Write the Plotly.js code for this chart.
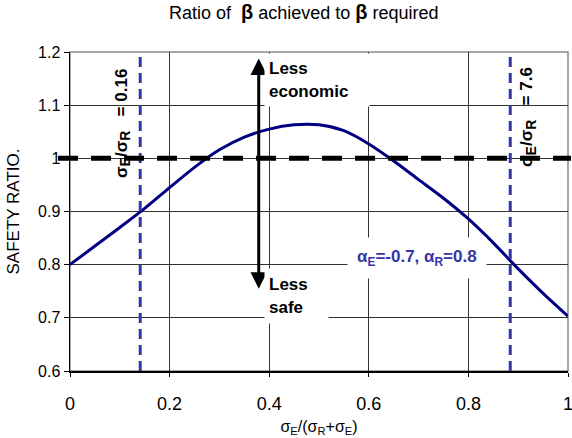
<!DOCTYPE html>
<html>
<head>
<meta charset="utf-8">
<script src="https://cdn.plot.ly/plotly-3.0.1.min.js"></script>
<style>html,body{margin:0;padding:0;background:#fff;}#chart{width:572px;height:438px;}</style>
</head>
<body>
<div id="chart"></div>
<script>
// Curve: safety ratio vs sigma_E/(sigma_R+sigma_E), alpha_E=-0.7, alpha_R=0.8
const ratioX = [0, 0.05, 0.1, 0.15, 0.2, 0.25, 0.3, 0.35, 0.4, 0.45, 0.5, 0.55, 0.6, 0.65, 0.7, 0.75, 0.8, 0.85, 0.9, 0.95, 1.0];
const safetyRatio = [0.800, 0.835, 0.870, 0.906, 0.945, 0.983, 1.016, 1.040, 1.055, 1.063, 1.063, 1.052, 1.027, 0.995, 0.960, 0.925, 0.886, 0.841, 0.792, 0.746, 0.703];
// Reference lines
const markerX = [0.141, 0.884];          // sigma_E/sigma_R = 0.16 and 7.6
const markerLabels = ['0.16', '7.6'];
const requiredLevel = 1.0;
// Arrow ends (less economic / less safe)
const arrowX = 0.379;
const arrowY = [1.1876, 0.7517];
// Axis ticks
const xTicks = [0, 0.2, 0.4, 0.6, 0.8, 1];
const xTickText = ['0', '0.2', '0.4', '0.6', '0.8', '1'];
const yTicks = [0.6, 0.7, 0.8, 0.9, 1.0, 1.1, 1.2];
const yTickText = ['0.6', '0.7', '0.8', '0.9', '1', '1.1', '1.2'];

const FONT = 'Liberation Sans, Arial, sans-serif';
const NAVY = '#000080';
const SLATE = '#3535a5';

const traces = [{
  x: ratioX, y: safetyRatio, type: 'scatter', mode: 'lines',
  line: {color: NAVY, width: 3, shape: 'spline', smoothing: 0.8},
  hoverinfo: 'skip', showlegend: false
}];

const shapes = [
  {type: 'rect', xref: 'paper', yref: 'paper', x0: 0, x1: 1, y0: 0, y1: 1,
   line: {color: '#8a8a8a', width: 1.5}, layer: 'below'},
  ...markerX.map(v => ({type: 'line', xref: 'x', yref: 'paper', x0: v, x1: v, y0: 0, y1: 1,
     line: {color: SLATE, width: 3, dash: '10px,6px'}})),
  {type: 'line', xref: 'paper', yref: 'y', x0: -0.024, x1: 1.006, y0: requiredLevel, y1: requiredLevel,
   line: {color: '#000', width: 5, dash: '20px,13px'}}
];

const sub = s => '<sub><span style="font-size:14px">' + s + '</span></sub>';
const ratioLabel = v => '<b>σ' + sub('E') + '/σ' + sub('R') + '\u00a0\u00a0\u00a0= ' + v + '</b>';

const annotations = [
  {x: arrowX, y: arrowY[0], ax: arrowX, ay: arrowY[1], axref: 'x', ayref: 'y', xref: 'x', yref: 'y',
   text: '', showarrow: true, arrowside: 'end+start', arrowhead: 2, startarrowhead: 2,
   arrowsize: 1.1, startarrowsize: 1.1, arrowwidth: 3, arrowcolor: '#000'},
  {x: 0.388, y: 1.199, xref: 'x', yref: 'y', xanchor: 'left', yanchor: 'top', showarrow: false,
   text: '<b>Less<br>economic</b>', align: 'left', bgcolor: '#fff', borderpad: 4, width: 96, height: 44,
   font: {family: FONT, size: 17, color: '#000'}, xshift: 1},
  {x: 0.388, y: 0.793, xref: 'x', yref: 'y', xanchor: 'left', yanchor: 'top', showarrow: false,
   text: '<b>Less<br>safe</b>', align: 'left', bgcolor: '#fff', borderpad: 4, width: 55, height: 46,
   font: {family: FONT, size: 17, color: '#000'}, xshift: 1},
  {x: 0.696, y: 0.812, xref: 'x', yref: 'y', xanchor: 'center', yanchor: 'middle', showarrow: false,
   text: '<b>α<sub>E</sub>=-0.7, α<sub>R</sub>=0.8</b>', bgcolor: '#fff', borderpad: 9,
   font: {family: FONT, size: 17, color: SLATE}},
  {x: 0.106, y: 1.066, xref: 'x', yref: 'y', xanchor: 'center', yanchor: 'middle', showarrow: false,
   textangle: -90, text: ratioLabel(markerLabels[0]),
   font: {family: FONT, size: 17, color: '#000'}},
  {x: 0.920, y: 1.078, xref: 'x', yref: 'y', xanchor: 'center', yanchor: 'middle', showarrow: false,
   textangle: -90, text: ratioLabel(markerLabels[1]),
   font: {family: FONT, size: 17, color: '#000'}}
];

const layout = {
  width: 572, height: 438,
  margin: {l: 70, r: 4, t: 52, b: 67},
  paper_bgcolor: '#fff', plot_bgcolor: '#fff',
  font: {family: FONT, color: '#000'},
  title: {
    text: 'Ratio of  <span style="font-size:20px"><b>β</b></span> achieved to <span style="font-size:20px"><b>β</b></span> required',
    font: {family: FONT, size: 18, color: '#000'},
    xref: 'container', yref: 'container', x: 0.531, xanchor: 'center', y: 0.97, yanchor: 'middle'
  },
  xaxis: {
    range: [0, 1], tickvals: xTicks, ticktext: xTickText,
    showgrid: true, gridcolor: '#333', gridwidth: 1,
    showline: true, linecolor: '#000', linewidth: 1.5,
    ticks: 'outside', ticklen: 4, tickcolor: '#000', ticklabelstandoff: 12,
    ticklabeloverflow: 'allow',
    tickfont: {family: FONT, size: 18, color: '#000'}, zeroline: false,
    title: {text: 'σ<sub>E</sub>/(σ<sub>R</sub>+σ<sub>E</sub>)', font: {family: FONT, size: 16, color: '#000'}, standoff: 7}
  },
  yaxis: {
    range: [0.6, 1.2], tickvals: yTicks, ticktext: yTickText,
    showgrid: true, gridcolor: '#333', gridwidth: 1,
    showline: true, linecolor: '#000', linewidth: 1.5,
    ticks: 'outside', ticklen: 5, tickcolor: '#000',
    tickfont: {family: FONT, size: 16, color: '#000'}, zeroline: false,
    title: {text: 'SAFETY RATIO.', font: {family: FONT, size: 17, color: '#000'}, standoff: 14}
  },
  shapes: shapes,
  annotations: annotations,
  showlegend: false
};

Plotly.newPlot('chart', traces, layout, {displayModeBar: false, staticPlot: true});
</script>
</body>
</html>
